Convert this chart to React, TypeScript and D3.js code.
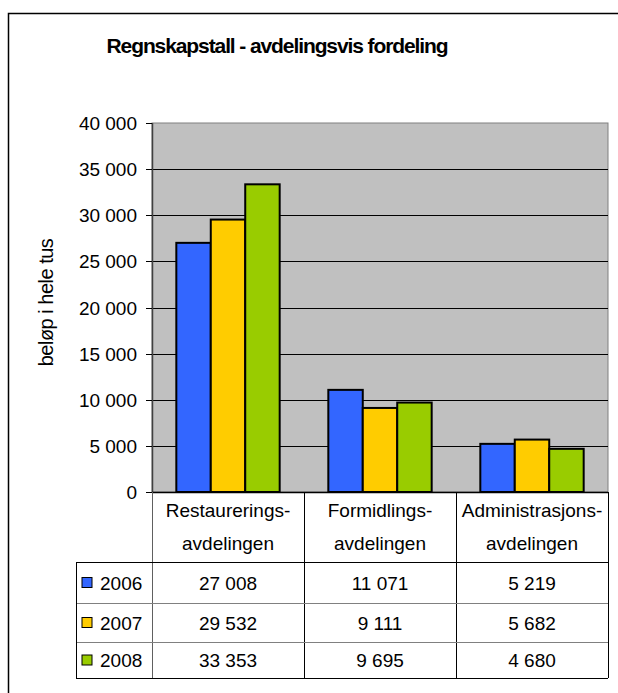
import React from "react";
import * as d3 from "d3";

const categories = [["Restaurerings-", "avdelingen"], ["Formidlings-", "avdelingen"], ["Administrasjons-", "avdelingen"]];
const years = ["2006", "2007", "2008"];
const values2006 = [27008, 11071, 5219];
const values2007 = [29532, 9111, 5682];
const values2008 = [33353, 9695, 4680];
const colors = ["#3366FF", "#FFCC00", "#99CC00"];
const yTicks = [0, 5000, 10000, 15000, 20000, 25000, 30000, 35000, 40000];
const title = "Regnskapstall - avdelingsvis fordeling";
const yLabel = "beløp i hele tus";

const fmt = (v: number) => {
  const s = String(v);
  return s.length > 3 ? s.slice(0, s.length - 3) + " " + s.slice(s.length - 3) : s;
};

export default function App() {
  const series = [values2006, values2007, values2008];
  const left = 152, right = 608, top = 123, bottom = 492;
  const y = d3.scaleLinear().domain([0, 40000]).range([bottom, top]);
  const x0 = d3.scaleBand().domain(categories.map((_, i) => String(i))).range([left, right]).paddingInner(0).paddingOuter(0);
  const bw = x0.bandwidth();
  const groupW = bw * 0.68;
  const x1 = d3.scaleBand().domain(years).range([0, groupW]);
  const font = "'Liberation Sans', Arial, sans-serif";
  const tableLeft = 76, headerBottom = 562, rowTops = [562, 603, 642], tableBottom = 678;
  const fs = 19;

  return (
    <svg width={618} height={693} style={{ position: "absolute", left: 0, top: 0 }} fontFamily={font}>
      <rect x={0} y={0} width={618} height={693} fill="#fff" />
      <rect x={8.5} y={13.5} width={640} height={700} fill="none" stroke="#000" strokeWidth={1.5} />
      <text x={277} y={53} textAnchor="middle" fontSize={21} fontWeight="bold" letterSpacing={-1.1}>{title}</text>
      {/* plot area */}
      <rect x={left} y={top} width={right - left} height={bottom - top} fill="#C0C0C0" stroke="#808080" strokeWidth={1} />
      {yTicks.filter(t => t > 0 && t < 40000).map(t => (
        <line key={t} x1={left} x2={right} y1={Math.round(y(t)) + 0.5} y2={Math.round(y(t)) + 0.5} stroke="#000" strokeWidth={1} />
      ))}
      {/* bars */}
      {categories.map((_, ci) => (
        <g key={ci} transform={`translate(${(x0(String(ci)) as number) + (bw - groupW) / 2},0)`}>
          {years.map((yr, si) => (
            <rect key={yr} x={x1(yr)} y={y(series[si][ci])} width={x1.bandwidth()} height={bottom - y(series[si][ci])}
              fill={colors[si]} stroke="#000" strokeWidth={2} />
          ))}
        </g>
      ))}
      {/* y axis */}
      <line x1={left + 0.5} x2={left + 0.5} y1={top} y2={bottom} stroke="#404040" strokeWidth={1.5} />
      {yTicks.map(t => (
        <g key={t}>
          <line x1={left - 6} x2={left} y1={Math.round(y(t)) + 0.5} y2={Math.round(y(t)) + 0.5} stroke="#000" />
          <text x={left - 15} y={y(t) + 7} textAnchor="end" fontSize={fs}>{fmt(t)}</text>
        </g>
      ))}
      <line x1={left} x2={right} y1={bottom + 0.5} y2={bottom + 0.5} stroke="#000" strokeWidth={1.5} />
      <text transform={`translate(53,${(top + bottom) / 2 - 5}) rotate(-90)`} textAnchor="middle" fontSize={20} letterSpacing={-0.5}>{yLabel}</text>
      {/* table */}
      {categories.map((c, ci) => {
        const cx = (x0(String(ci)) as number) + bw / 2;
        return (
          <g key={ci}>
            <text x={cx} y={517} textAnchor="middle" fontSize={fs}>{c[0]}</text>
            <text x={cx} y={550} textAnchor="middle" fontSize={fs}>{c[1]}</text>
            {series.map((s, si) => (
              <text key={si} x={cx} y={(si < 2 ? (rowTops[si] + rowTops[si + 1]) / 2 : (rowTops[2] + tableBottom) / 2) + 7}
                textAnchor="middle" fontSize={fs}>{fmt(s[ci])}</text>
            ))}
          </g>
        );
      })}
      {/* vertical dividers */}
      {[0, 1, 2, 3].map(i => {
        const xx = Math.round(left + i * bw) + 0.5;
        return <line key={i} x1={xx} x2={xx} y1={bottom} y2={tableBottom} stroke={i === 0 ? "#606060" : "#000"} strokeWidth={1} />;
      })}
      <line x1={tableLeft} x2={right} y1={headerBottom + 0.5} y2={headerBottom + 0.5} stroke="#000" />
      <line x1={tableLeft} x2={right} y1={rowTops[1] + 0.5} y2={rowTops[1] + 0.5} stroke="#808080" />
      <line x1={tableLeft} x2={right} y1={rowTops[2] + 0.5} y2={rowTops[2] + 0.5} stroke="#808080" />
      <line x1={tableLeft} x2={right} y1={tableBottom + 0.5} y2={tableBottom + 0.5} stroke="#000" />
      <line x1={tableLeft + 0.5} x2={tableLeft + 0.5} y1={headerBottom} y2={tableBottom} stroke="#000" />
      {years.map((yr, si) => {
        const cy = si < 2 ? (rowTops[si] + rowTops[si + 1]) / 2 : (rowTops[2] + tableBottom) / 2;
        return (
          <g key={yr}>
            <rect x={82} y={cy - 5} width={10} height={10} fill={colors[si]} stroke="#000" strokeWidth={1} />
            <text x={100} y={cy + 7} fontSize={fs}>{yr}</text>
          </g>
        );
      })}
    </svg>
  );
}
